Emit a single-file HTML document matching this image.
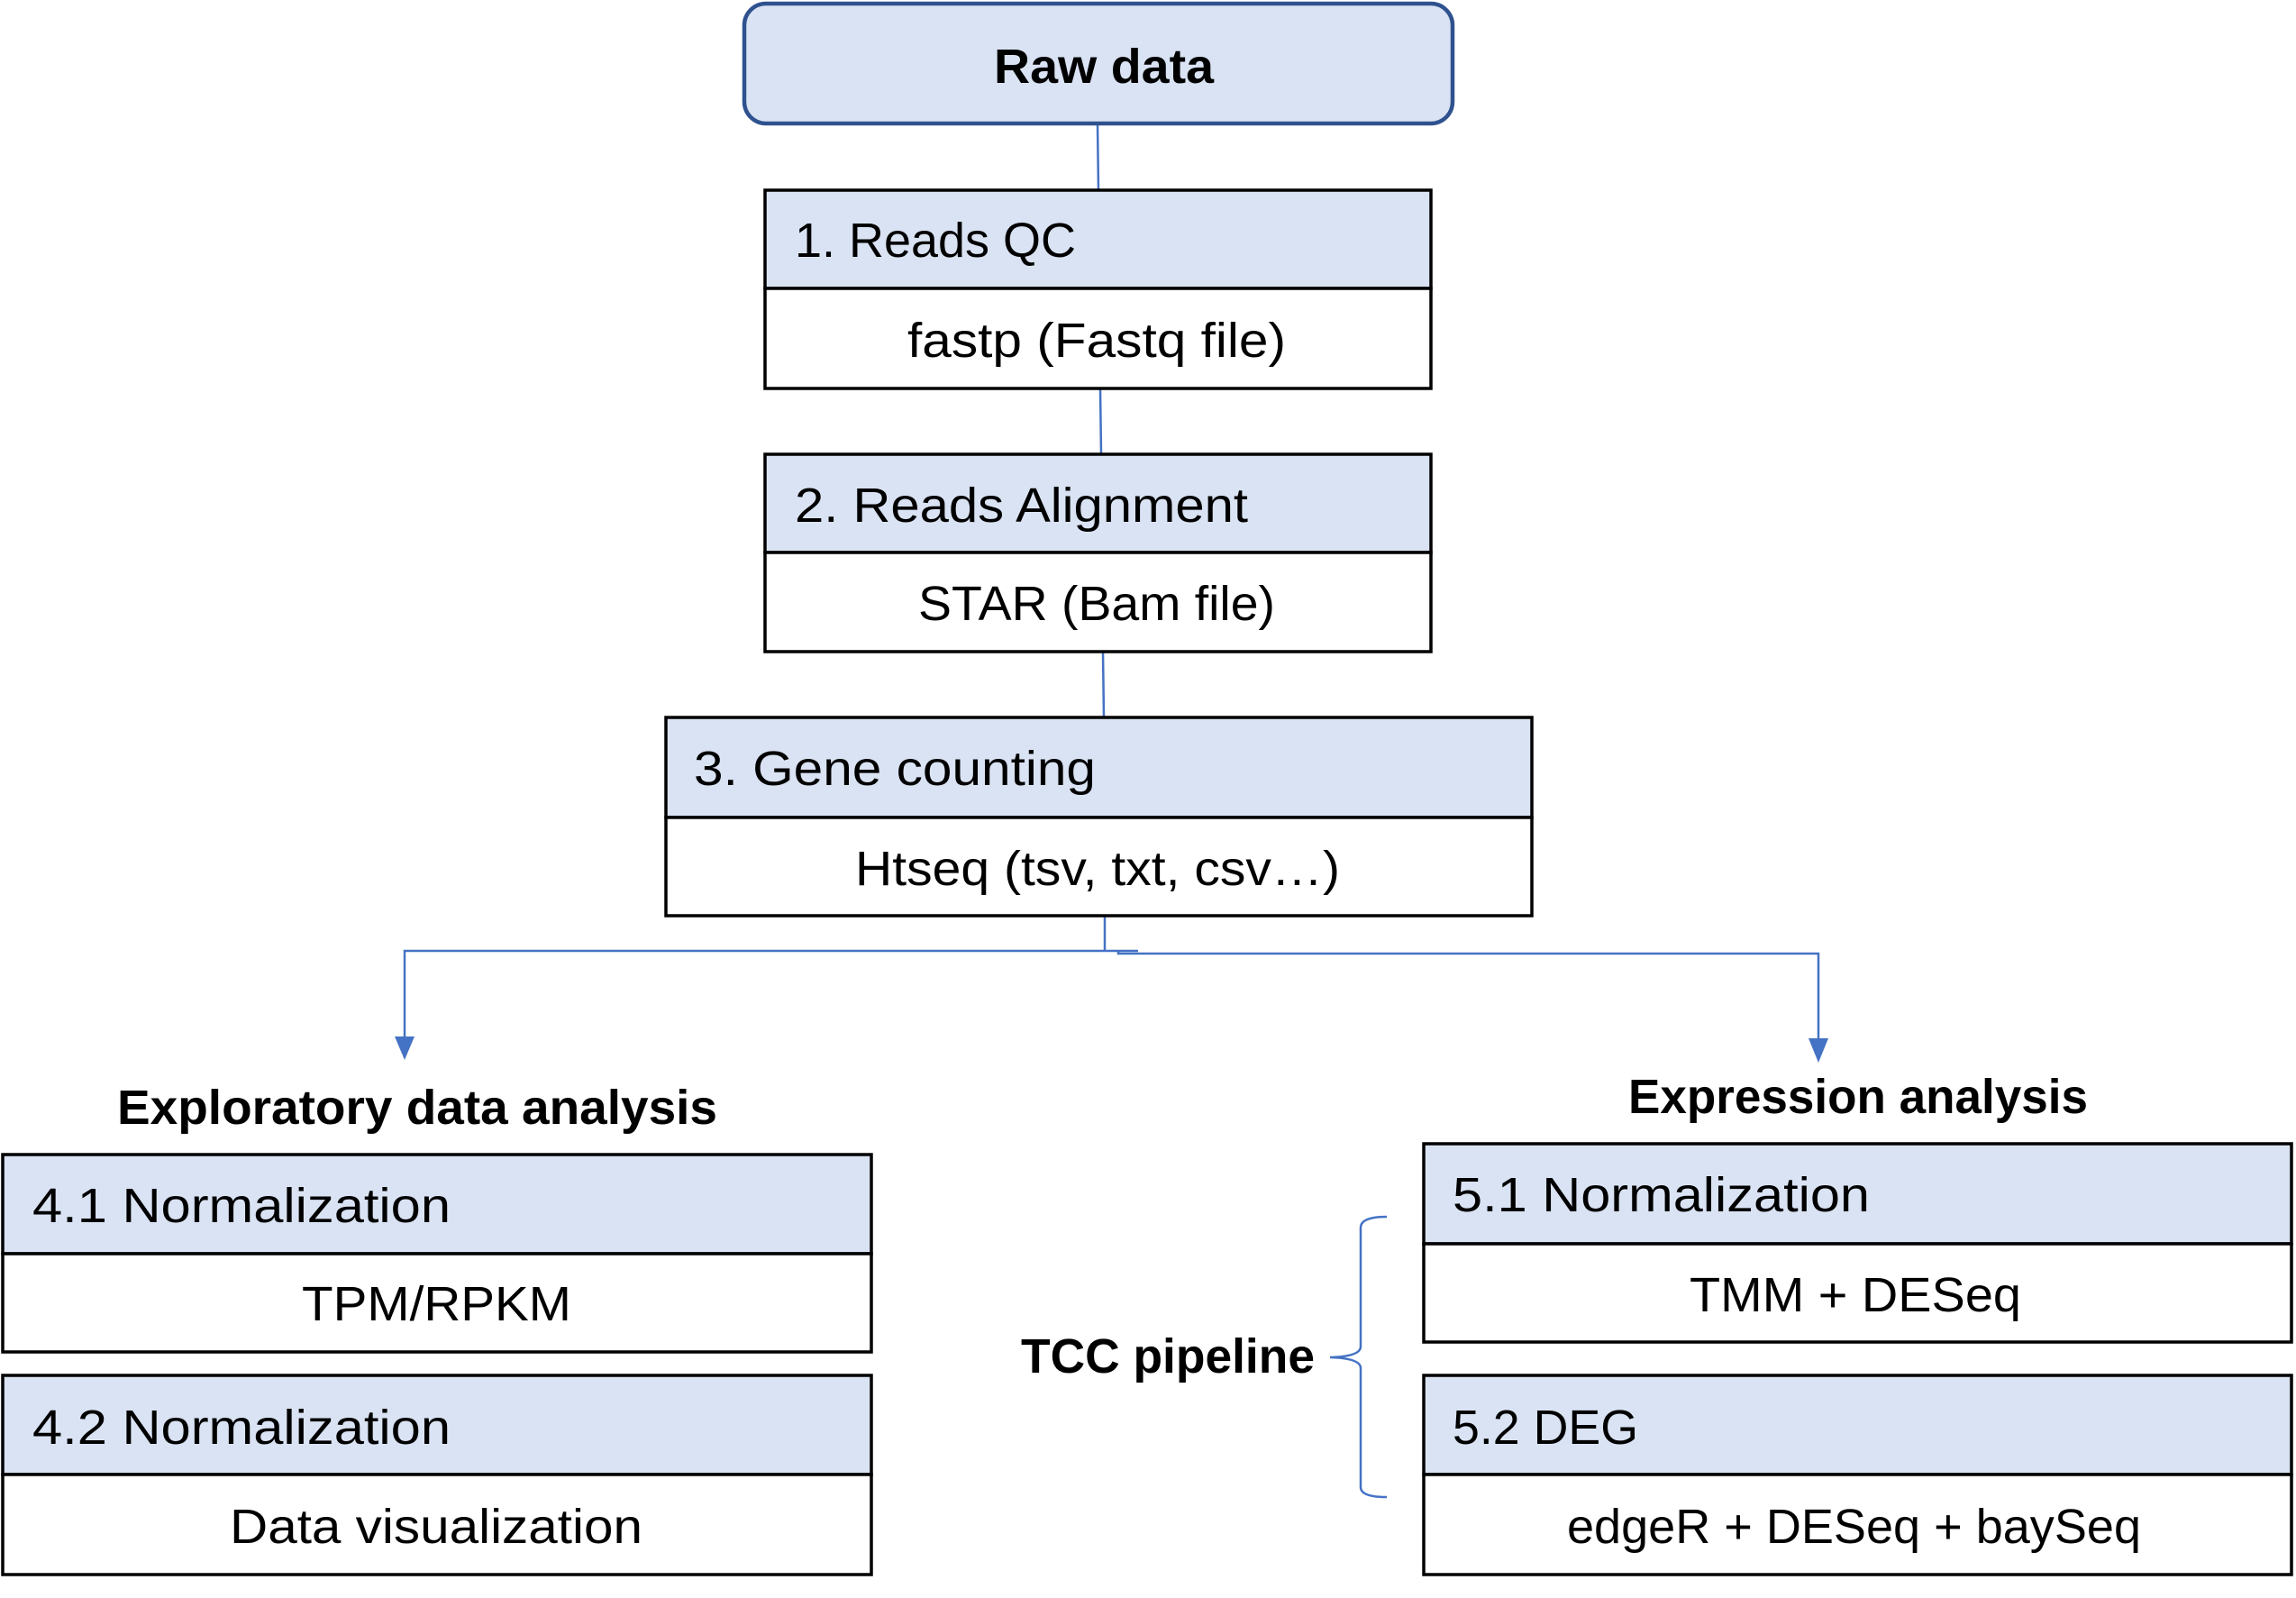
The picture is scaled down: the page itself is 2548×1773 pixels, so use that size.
<!DOCTYPE html>
<html><head><meta charset="utf-8"><style>html,body{margin:0;padding:0;background:#fff}svg{display:block}</style></head>
<body>
<svg width="2548" height="1773" viewBox="0 0 2548 1773" xmlns="http://www.w3.org/2000/svg" font-family="Liberation Sans, sans-serif" fill="#000">
<!-- connectors -->
<g stroke="#4472c4" stroke-width="2.5" fill="none">
<line x1="1218" y1="138" x2="1219" y2="211"/>
<line x1="1221" y1="431" x2="1222" y2="504"/>
<line x1="1224" y1="723" x2="1225" y2="796"/>
<line x1="1226" y1="1016" x2="1226" y2="1054"/>
<polyline points="449,1158 449,1055 1263,1055"/>
<polyline points="1241,1055 1241,1058 2018,1058 2018,1160"/>
<path d="M1539,1350 Q1510,1350 1510,1362 L1510,1494 Q1510,1505 1476,1506 Q1510,1507 1510,1518 L1510,1650 Q1510,1661 1539,1661"/>
</g>
<polygon points="438,1150 460,1150 449,1176" fill="#4472c4"/>
<polygon points="2007,1152 2029,1152 2018,1179" fill="#4472c4"/>
<!-- raw data -->
<rect x="826" y="4" width="786" height="133" rx="24" fill="#dae3f3" stroke="#2f528f" stroke-width="4.5"/>
<text x="1103" y="74" textLength="244" lengthAdjust="spacingAndGlyphs" font-weight="bold" font-size="54" dominant-baseline="central">Raw data</text>
<g stroke="#000" stroke-width="3.5">
<rect x="849" y="211" width="739" height="109" fill="#dae3f3"/><rect x="849" y="320" width="739" height="111" fill="#fff"/>
<rect x="849" y="504" width="739" height="109" fill="#dae3f3"/><rect x="849" y="613" width="739" height="110" fill="#fff"/>
<rect x="739" y="796" width="961" height="111" fill="#dae3f3"/><rect x="739" y="907" width="961" height="109" fill="#fff"/>
<rect x="3" y="1281" width="964" height="110" fill="#dae3f3"/><rect x="3" y="1391" width="964" height="109" fill="#fff"/>
<rect x="3" y="1526" width="964" height="110" fill="#dae3f3"/><rect x="3" y="1636" width="964" height="111" fill="#fff"/>
<rect x="1580" y="1269" width="963" height="111" fill="#dae3f3"/><rect x="1580" y="1380" width="963" height="109" fill="#fff"/>
<rect x="1580" y="1526" width="963" height="110" fill="#dae3f3"/><rect x="1580" y="1636" width="963" height="111" fill="#fff"/>
</g>
<g font-size="54" dominant-baseline="central">
<text x="882" y="267" textLength="312" lengthAdjust="spacingAndGlyphs">1. Reads QC</text>
<text x="1007" y="378" textLength="420" lengthAdjust="spacingAndGlyphs">fastp (Fastq file)</text>
<text x="882" y="561" textLength="503" lengthAdjust="spacingAndGlyphs">2. Reads Alignment</text>
<text x="1019" y="670" textLength="396" lengthAdjust="spacingAndGlyphs">STAR (Bam file)</text>
<text x="770" y="853" textLength="446" lengthAdjust="spacingAndGlyphs">3. Gene counting</text>
<text x="949" y="964" textLength="538" lengthAdjust="spacingAndGlyphs">Htseq (tsv, txt, csv…)</text>
<text x="36" y="1338" textLength="464" lengthAdjust="spacingAndGlyphs">4.1 Normalization</text>
<text x="335" y="1447" textLength="299" lengthAdjust="spacingAndGlyphs">TPM/RPKM</text>
<text x="36" y="1584" textLength="464" lengthAdjust="spacingAndGlyphs">4.2 Normalization</text>
<text x="255" y="1694" textLength="458" lengthAdjust="spacingAndGlyphs">Data visualization</text>
<text x="1612" y="1326" textLength="463" lengthAdjust="spacingAndGlyphs">5.1 Normalization</text>
<text x="1875" y="1437" textLength="368" lengthAdjust="spacingAndGlyphs">TMM + DESeq</text>
<text x="1612" y="1584" textLength="206" lengthAdjust="spacingAndGlyphs">5.2 DEG</text>
<text x="1739" y="1694" textLength="637" lengthAdjust="spacingAndGlyphs">edgeR + DESeq + baySeq</text>
<text x="130" y="1229" textLength="666" lengthAdjust="spacingAndGlyphs" font-weight="bold">Exploratory data analysis</text>
<text x="1807" y="1217" textLength="510" lengthAdjust="spacingAndGlyphs" font-weight="bold">Expression analysis</text>
<text x="1133" y="1505" textLength="326" lengthAdjust="spacingAndGlyphs" font-weight="bold">TCC pipeline</text>
</g>
</svg>
</body></html>
